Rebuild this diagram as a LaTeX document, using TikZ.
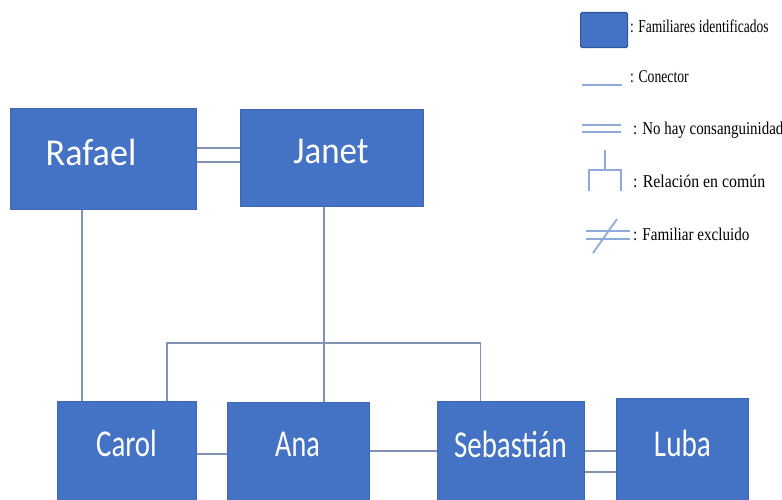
\documentclass[tikz,border=0pt]{standalone}
\usepackage{fontspec}
\setmainfont{Liberation Serif}
\newfontfamily\boxfont{Carlito}
\usetikzlibrary{calc}
\definecolor{boxblue}{HTML}{4472C4}
\definecolor{boxedge}{HTML}{3C67B5}
\definecolor{connc}{HTML}{8093B3}
\definecolor{leglinec}{HTML}{8EAADB}
\definecolor{legedge}{HTML}{2F5597}
\newcommand\sq[2]{\scalebox{#1}[1]{#2}}
\begin{document}
\begin{tikzpicture}[x=1pt,y=-1pt,
  person/.style={draw=boxedge, line width=0.8pt, fill=boxblue, inner sep=0pt, anchor=north west},
  nametext/.style={text=white, font=\boxfont\fontsize{38}{40}\selectfont, inner sep=0pt, anchor=base},
  conn/.style={draw=connc, line width=1.2pt},
  legline/.style={draw=leglinec, line width=1.8pt},
  legtext/.style={font=\fontsize{18}{20}\selectfont, inner sep=0pt, anchor=base west}]
\useasboundingbox (0,0) rectangle (782,500);
\clip (0,0) rectangle (782,500);

% persons
\node[person, minimum width=186pt, minimum height=101pt] (rafael) at (10,108) {};
\node[person, minimum width=183pt, minimum height=97pt] (janet) at (240,109) {};
\node[person, minimum width=139pt, minimum height=110pt] (carol) at (57,401) {};
\node[person, minimum width=142pt, minimum height=110pt] (ana) at (227,402) {};
\node[person, minimum width=147pt, minimum height=110pt] (sebastian) at (437,401) {};
\node[person, minimum width=132pt, minimum height=115pt] (luba) at (616,398) {};

\node[nametext] (rafaelT) at ($(rafael.north west)+(81,57)$) {\sq{0.95}{Rafael}};
\node[nametext] (janetT) at ($(janet.north west)+(91,55)$) {\sq{0.92}{Janet}};
\node[nametext] (carolT) at ($(carol.north west)+(69.5,55)$) {\sq{0.76}{Carol}};
\node[nametext] (anaT) at ($(ana.north west)+(70.5,54)$) {\sq{0.74}{Ana}};
\node[nametext] (sebastianT) at ($(sebastian.north west)+(73.5,56)$) {\sq{0.76}{Sebastián}};
\node[nametext] (lubaT) at ($(luba.north west)+(66.5,58)$) {\sq{0.77}{Luba}};

% connectors
\draw[conn] ($(rafael.north east)+(0,40)$) -- ($(janet.north west)+(0,39)$);
\draw[conn] ($(rafael.north east)+(0,54)$) -- ($(janet.north west)+(0,53)$);
\draw[conn] ($(rafael.south west)+(72,0)$) -- ($(carol.north west)+(25,0)$);
\draw[conn] ($(janet.south west)+(84,0)$) -- ($(ana.north west)+(97,0)$);
\draw[conn] ($(carol.north west)+(110,0)$) -- ++(0,-58) -| ($(sebastian.north west)+(43.5,0)$);
\draw[conn] ($(carol.north east)+(0,53)$) -- ($(ana.north west)+(0,52)$);
\draw[conn] ($(ana.north east)+(0,49)$) -- ($(sebastian.north west)+(0,50)$);
\draw[conn] ($(sebastian.north east)+(0,50)$) -- ($(luba.north west)+(0,53)$);
\draw[conn] ($(sebastian.north east)+(0,71)$) -- ($(luba.north west)+(0,74)$);

% legend
\node[draw=legedge, line width=1.2pt, fill=boxblue, rounded corners=1.5pt, minimum width=47pt, minimum height=35pt, anchor=north west, inner sep=0pt] (lbox) at (580,12) {};
\node[legtext] (l1) at (630,33) {\sq{0.75}{: Familiares identificados}};
\draw[legline] (582,85) -- (622,85);
\node[legtext] (l2) at (630,83) {\sq{0.76}{: Conector}};
\draw[legline] (582,125) -- (621,125);
\draw[legline] (582,132) -- (621,132);
\node[legtext] (l3) at (633,135) {\sq{0.83}{: No hay consanguinidad}};
\draw[legline] (605,150) -- (605,170);
\draw[legline] (589,191) -- (589,170) -- (621,170) -- (621,191);
\node[legtext] (l4) at (633,188) {\sq{0.88}{: Relación en común}};
\draw[legline] (586,231) -- (630,231);
\draw[legline] (586,239) -- (630,239);
\draw[legline] (593,253) -- (617,219);
\node[legtext] (l5) at (633,240) {\sq{0.84}{: Familiar excluido}};
\end{tikzpicture}
\end{document}
